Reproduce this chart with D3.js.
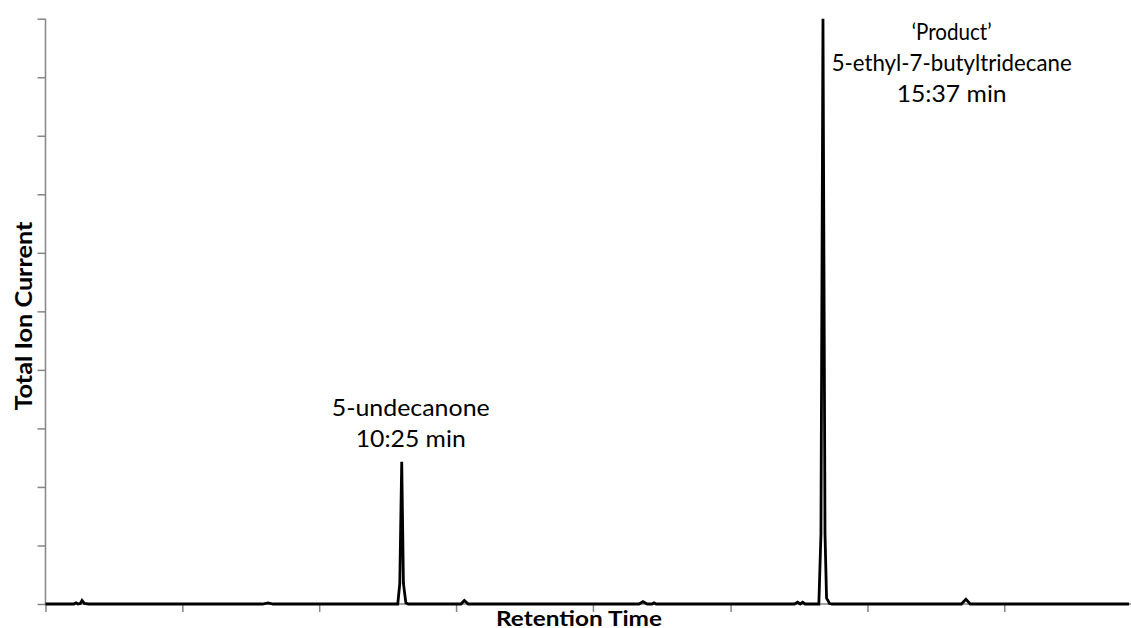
<!DOCTYPE html>
<html>
<head>
<meta charset="utf-8">
<script src="https://cdn.jsdelivr.net/npm/d3@7"></script>
<style>
  html, body { margin: 0; padding: 0; background: #fff; }
  svg { display: block; }
  text { font-family: Lato, "Open Sans", sans-serif; fill: #000; }
</style>
</head>
<body>
<svg id="chart" width="1131" height="628"></svg>
<script>
// Retention time (min) of each trace point
const retentionTime = [
  6.02, 6.30, 6.37, 6.397, 6.42, 6.45, 6.471, 6.50, 6.55,
  8.70, 8.767, 8.83,
  10.37, 10.395, 10.419, 10.44, 10.47, 10.50,
  11.15, 11.192, 11.24,
  13.35, 13.398, 13.45, 13.51, 13.534, 13.56,
  15.27, 15.308, 15.34, 15.370, 15.40,
  15.57, 15.596, 15.621, 15.646, 15.665, 15.682, 15.70, 15.73,
  17.33, 17.386, 17.44,
  19.40
];
// Total ion current at each point (relative units)
const ionCurrent = [
  0, 0, 0, 0.02, 0, 0.01, 0.06, 0.01, 0,
  0, 0.02, 0,
  0, 0.35, 2.43, 0.35, 0.02, 0,
  0, 0.06, 0,
  0, 0.04, 0, 0, 0.02, 0,
  0, 0.03, 0, 0.03, 0,
  0, 1.2, 10, 1.2, 0.1, 0.06, 0.01, 0,
  0, 0.08, 0,
  0
];

const yTicks = [0, 1, 2, 3, 4, 5, 6, 7, 8, 9, 10];
const xTicks = [6.02, 7.71, 9.40, 11.09, 12.78, 14.48, 16.17, 17.86];

const peakLabels = [
  { time: 10.53, value: 3.22, lines: ["5-undecanone", "10:25 min"], widths: [158, 110] },
  { time: 17.21, value: 9.64, lines: ["\u2018Product\u2019", "5-ethyl-7-butyltridecane", "15:37 min"], widths: [80, 240, 110] }
];

const svg = d3.select("#chart");
const x = d3.scaleLinear().domain([6.02, 19.40]).range([45.5, 1129]);
const y = d3.scaleLinear().domain([0, 10]).range([604, 18.7]);
const axisColor = "#868686";

// Y axis
const yAxis = svg.append("g")
  .attr("transform", `translate(${x(6.02)},0)`)
  .call(d3.axisLeft(y).tickValues(yTicks).tickSize(8).tickFormat(""));
yAxis.select(".domain").attr("stroke", axisColor).attr("stroke-width", 1.5)
  .attr("d", `M0,${y(10)}V${y(0)}`);
yAxis.selectAll(".tick line").attr("stroke", axisColor).attr("stroke-width", 1.5);

// X axis
const xAxis = svg.append("g")
  .attr("transform", `translate(0,${y(0)})`)
  .call(d3.axisBottom(x).tickValues(xTicks).tickSize(8).tickFormat(""));
xAxis.select(".domain").attr("stroke", axisColor).attr("stroke-width", 1.5)
  .attr("d", `M${x(6.02)},0H1131`);
xAxis.selectAll(".tick line").attr("stroke", axisColor).attr("stroke-width", 1.5);

// Chromatogram trace
const points = retentionTime.map((t, i) => [t, ionCurrent[i]]);
svg.append("path")
  .datum(points)
  .attr("fill", "none")
  .attr("stroke", "#000")
  .attr("stroke-width", 2.8)
  .attr("stroke-linejoin", "miter")
  .attr("d", d3.line().x(d => x(d[0])).y(d => y(d[1])));

// Peak annotations
peakLabels.forEach(p => {
  p.lines.forEach((line, i) => {
    svg.append("text")
      .attr("text-anchor", "middle")
      .attr("font-size", 23)
      .attr("x", x(p.time))
      .attr("y", y(p.value) + i * 31)
      .attr("textLength", p.widths[i])
      .attr("lengthAdjust", "spacingAndGlyphs")
      .text(line);
  });
});

// Axis titles
svg.append("text")
  .attr("x", 579).attr("y", 626)
  .attr("text-anchor", "middle")
  .attr("font-weight", "bold")
  .attr("font-size", 21)
  .attr("textLength", 166)
  .attr("lengthAdjust", "spacingAndGlyphs")
  .text("Retention Time");

svg.append("text")
  .attr("transform", "translate(32,316) rotate(-90)")
  .attr("text-anchor", "middle")
  .attr("font-weight", "bold")
  .attr("font-size", 22)
  .attr("textLength", 189)
  .attr("lengthAdjust", "spacingAndGlyphs")
  .text("Total Ion Current");
</script>
</body>
</html>
